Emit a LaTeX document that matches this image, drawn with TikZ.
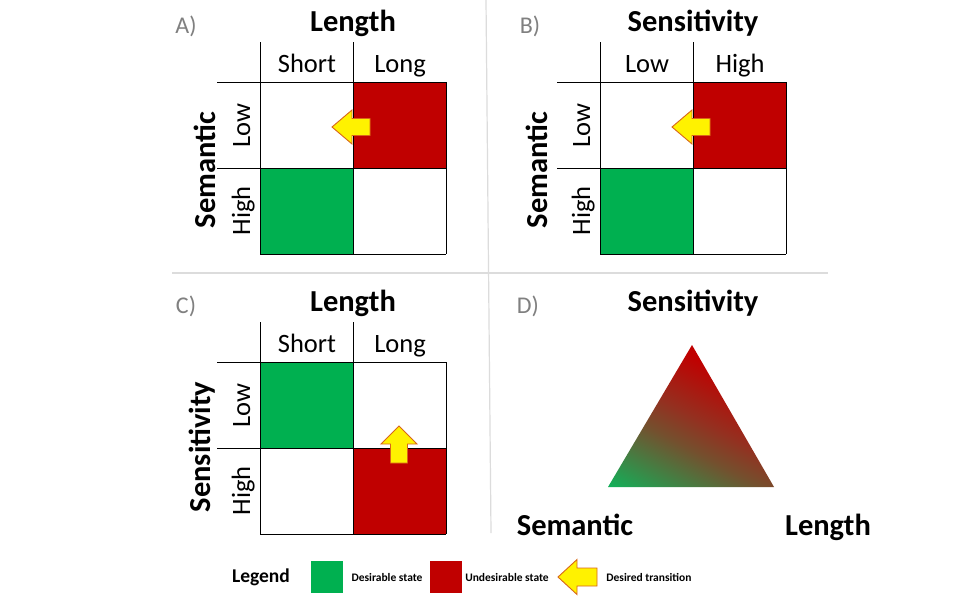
\documentclass[tikz,border=0pt]{standalone}
\usepackage{fontspec}
\setmainfont{Carlito}
\definecolor{dred}{HTML}{C00000}
\definecolor{dgreen}{HTML}{00B050}
\definecolor{trigreen}{HTML}{14AE58}
\definecolor{tbrown}{HTML}{74502E}
\definecolor{tmid}{HTML}{943020}
\definecolor{arrowedge}{HTML}{D8661A}
\definecolor{divider}{HTML}{DCDCDC}
\pgfdeclareverticalshading{trishade}{100bp}{color(0bp)=(trigreen); color(17bp)=(trigreen); color(40bp)=(tbrown); color(50bp)=(tmid); color(68bp)=(dred); color(100bp)=(dred)}
\begin{document}
\begin{tikzpicture}[x=1pt,y=-1pt,
  title/.style={font=\bfseries\fontsize{30.5}{32}\selectfont, anchor=base},
  lab/.style={font=\fontsize{26.5}{28}\selectfont, anchor=base},
  panel/.style={font=\fontsize{24}{26}\selectfont, text=gray, anchor=base},
  gridline/.style={draw=black, line width=1pt},
  divline/.style={draw=divider, line width=1.2pt},
  tarrow/.style={fill=yellow, draw=arrowedge, line width=0.9pt, line join=miter},
  legtitle/.style={font=\bfseries\fontsize{19.5}{21}\selectfont},
  legtext/.style={font=\bfseries\fontsize{11.5}{13}\selectfont},
  redcell/.style={fill=dred},
  greencell/.style={fill=dgreen}]
\useasboundingbox[fill=white] (0,0) rectangle (960,600);

% dividers
\draw[divline] (172,273) -- (828,273);
\draw[divline] (486,0) -- (491,533);

% ---------- Panel A ----------
\fill[redcell] (353,82) rectangle (446,168);
\fill[greencell] (260,168) rectangle (353,254);
\draw[gridline] (260,42) -- (260,254);
\draw[gridline] (353,42) -- (353,254);
\draw[gridline] (446,82) -- (446,254);
\draw[gridline] (217,82) -- (446,82);
\draw[gridline] (217,168) -- (446,168);
\draw[gridline] (260,254) -- (446,254);
\node[panel] (pa) at (186,33) {A)};
\node[title] (ta) at (353,31) {Length};
\node[lab] (ashort) at (307,72) {Short};
\node[lab] (along) at (400,72) {Long};
\node[title, rotate=90] (asem) at (215,170) {Semantic};
\node[lab, rotate=90] (alow) at (250,126) {Low};
\node[lab, rotate=90] (ahigh) at (250,211) {High};
\draw[tarrow, shift={(332,127)}] (0,0) -- (20,-17) -- (20,-8.5) -- (38,-8.5) -- (38,8.5) -- (20,8.5) -- (20,17) -- cycle;

% ---------- Panel B ----------
\fill[redcell] (693,82) rectangle (786,168);
\fill[greencell] (600,168) rectangle (693,254);
\draw[gridline] (600,42) -- (600,254);
\draw[gridline] (693,42) -- (693,254);
\draw[gridline] (786,82) -- (786,254);
\draw[gridline] (557,82) -- (786,82);
\draw[gridline] (557,168) -- (786,168);
\draw[gridline] (600,254) -- (786,254);
\node[panel] (pb) at (530,33) {B)};
\node[title] (tb) at (693,31) {Sensitivity};
\node[lab] (blow) at (647,72) {Low};
\node[lab] (bhigh) at (740,72) {High};
\node[title, rotate=90] (bsem) at (547,170) {Semantic};
\node[lab, rotate=90] (blowr) at (590,126) {Low};
\node[lab, rotate=90] (bhighr) at (590,211) {High};
\draw[tarrow, shift={(672,127)}] (0,0) -- (20,-17) -- (20,-8.5) -- (38,-8.5) -- (38,8.5) -- (20,8.5) -- (20,17) -- cycle;

% ---------- Panel C ----------
\fill[greencell] (260,362) rectangle (353,448);
\fill[redcell] (353,448) rectangle (446,534);
\draw[gridline] (260,322) -- (260,534);
\draw[gridline] (353,322) -- (353,534);
\draw[gridline] (446,362) -- (446,534);
\draw[gridline] (217,362) -- (446,362);
\draw[gridline] (217,448) -- (446,448);
\draw[gridline] (260,534) -- (446,534);
\node[panel] (pc) at (186,313) {C)};
\node[title] (tc) at (353,311) {Length};
\node[lab] (cshort) at (307,352) {Short};
\node[lab] (clong) at (400,352) {Long};
\node[title, rotate=90] (csens) at (210,447) {Sensitivity};
\node[lab, rotate=90] (clow) at (250,406) {Low};
\node[lab, rotate=90] (chigh) at (250,491) {High};
\draw[tarrow, shift={(399,426)}] (0,0) -- (18,18) -- (8.5,18) -- (8.5,37) -- (-8.5,37) -- (-8.5,18) -- (-18,18) -- cycle;

% ---------- Panel D ----------
\node[panel] (pd) at (528,313) {D)};
\node[title] (td) at (693,311) {Sensitivity};
\node[title] (dsem) at (575,535) {Semantic};
\node[title] (dlen) at (828,535) {Length};
\coordinate (tapex) at (692,345);
\coordinate (tleft) at (608,487);
\coordinate (tright) at (774,487);
\shade[shading=trishade, shading angle=-28]
  (tapex) -- (tleft) -- (tright) -- cycle;

% ---------- Legend ----------
\node[legtitle] (leg) at (261,577) {Legend};
\fill[greencell] (311,561) rectangle (343,593);
\node[legtext] (ldes) at (387,577) {Desirable state};
\fill[redcell] (430,561) rectangle (462,593);
\node[legtext] (lund) at (507,577) {Undesirable state};
\draw[tarrow, shift={(558,577)}] (0,0) -- (19,-17.5) -- (19,-9) -- (39,-9) -- (39,9) -- (19,9) -- (19,17.5) -- cycle;
\node[legtext] (ltr) at (649,577) {Desired transition};
\end{tikzpicture}
\end{document}
